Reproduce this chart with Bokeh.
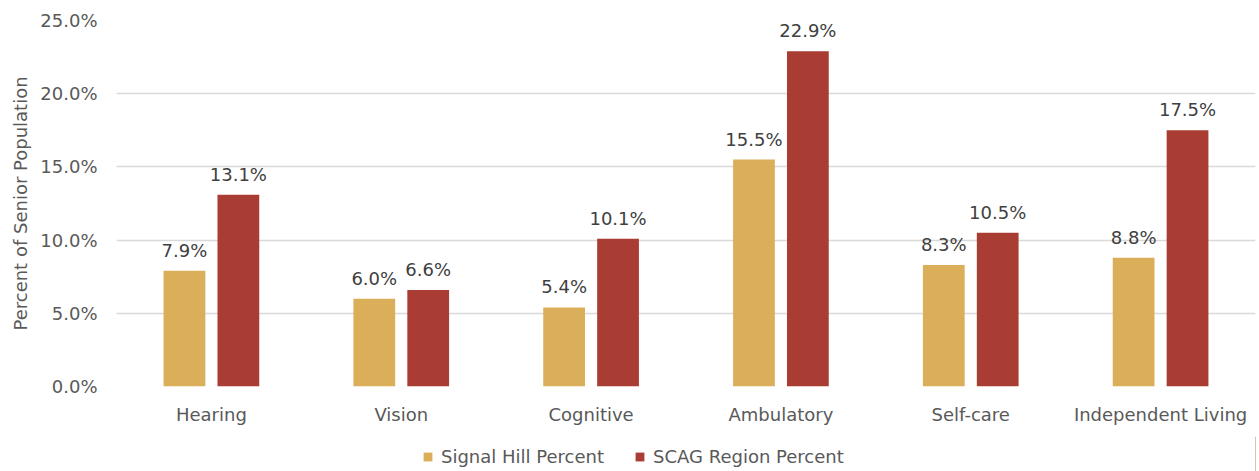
from bokeh.plotting import figure
from bokeh.layouts import column
from bokeh.models import ColumnDataSource, FactorRange, FixedTicker, PrintfTickFormatter, LabelSet, Legend, LegendItem
from bokeh.core.properties import value
from bokeh.transform import dodge
from bokeh.embed import file_html
from bokeh.resources import INLINE

categories = ["Hearing", "Vision", "Cognitive", "Ambulatory", "Self-care", "Independent Living"]
signal_hill = [7.9, 6.0, 5.4, 15.5, 8.3, 8.8]
scag_region = [13.1, 6.6, 10.1, 22.9, 10.5, 17.5]
series_names = ["Signal Hill Percent", "SCAG Region Percent"]
y_ticks = [0, 5, 10, 15, 20, 25]

YELLOW = "#DBAE59"
RED = "#A93C33"
TEXT = "#595959"
FONT = "DejaVu Sans"
FS = "18px"

src = ColumnDataSource(dict(
    cat=categories,
    sh=signal_hill,
    sc=scag_region,
    sh_lbl=[f"{v:.1f}%" for v in signal_hill],
    sc_lbl=[f"{v:.1f}%" for v in scag_region],
))

p = figure(x_range=FactorRange(*categories, range_padding=0), y_range=(0, 25),
           width=1258, height=436, output_backend="svg", toolbar_location=None,
           min_border_left=116, min_border_top=20, min_border_right=3, min_border_bottom=50)

r1 = p.vbar(x=dodge("cat", -0.142, range=p.x_range), top="sh", width=0.22, source=src,
            fill_color=YELLOW, line_color=None)
r2 = p.vbar(x=dodge("cat", 0.142, range=p.x_range), top="sc", width=0.22, source=src,
            fill_color=RED, line_color=None)

for col, lbl, off in (("sh", "sh_lbl", -0.142), ("sc", "sc_lbl", 0.142)):
    ls = LabelSet(x=dodge("cat", off, range=p.x_range), y=col, text=lbl, source=src,
                  text_align="center", text_baseline="bottom", y_offset=10,
                  text_font=value(FONT), text_font_size=value(FS), text_color="#404040")
    p.add_layout(ls)

p.yaxis.ticker = FixedTicker(ticks=y_ticks)
p.yaxis.formatter = PrintfTickFormatter(format="%.1f%%")
p.yaxis.axis_label = "Percent of Senior Population"
for ax in (p.xaxis, p.yaxis):
    ax.axis_line_color = None
    ax.major_tick_line_color = None
    ax.minor_tick_line_color = None
    ax.major_label_text_font = FONT
    ax.major_label_text_font_size = FS
    ax.major_label_text_color = TEXT
p.yaxis.axis_label_text_font = FONT
p.yaxis.axis_label_text_font_size = "18px"
p.yaxis.axis_label_text_font_style = "normal"
p.yaxis.axis_label_text_color = TEXT
p.yaxis.axis_label_standoff = 6
p.yaxis.major_label_standoff = 13
p.xaxis.major_label_standoff = 11

p.xgrid.grid_line_color = None
p.ygrid.grid_line_color = "#D9D9D9"
p.ygrid.grid_line_width = 1.5
p.outline_line_color = None

# legend strip
pl = figure(width=1258, height=35, output_backend="svg", toolbar_location=None,
            x_axis_type=None, y_axis_type=None, x_range=(0, 1), y_range=(0, 1),
            min_border=0, outline_line_color=None)
pl.xgrid.grid_line_color = None
pl.ygrid.grid_line_color = None
l1 = pl.vbar(x=[5], top=[1], width=0.1, fill_color=YELLOW, line_color=None)
l2 = pl.vbar(x=[5], top=[1], width=0.1, fill_color=RED, line_color=None)
legend = Legend(items=[LegendItem(label=series_names[0], renderers=[l1]),
                       LegendItem(label=series_names[1], renderers=[l2])],
                orientation="horizontal", location=(306, 4),
                label_text_font=FONT, label_text_font_size=FS, label_text_color=TEXT,
                glyph_width=11, glyph_height=11, label_standoff=8, spacing=30,
                padding=0, margin=0, label_height=20,
                border_line_color=None, background_fill_alpha=0)
pl.add_layout(legend, "center")

layout = column(p, pl, spacing=0)
open("out.html", "w").write(file_html(layout, INLINE))
